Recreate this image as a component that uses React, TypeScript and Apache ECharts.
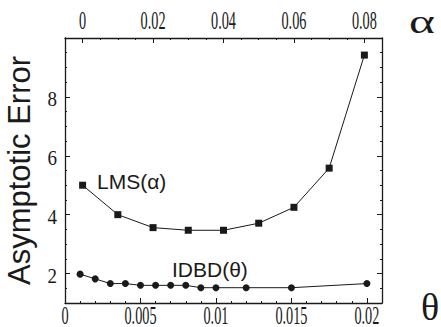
import React, { useEffect, useRef } from "react";
import * as echarts from "echarts";

// ---- data ----
const alphaValues = [0, 0.01, 0.02, 0.03, 0.04, 0.05, 0.06, 0.07, 0.08];
const lmsError = [5.0, 4.0, 3.56, 3.47, 3.47, 3.71, 4.25, 5.58, 9.42];

const thetaValues = [0.001, 0.002, 0.003, 0.004, 0.005, 0.006, 0.007, 0.008, 0.009, 0.01, 0.012, 0.015, 0.02];
const idbdError = [1.98, 1.82, 1.66, 1.66, 1.6, 1.6, 1.6, 1.6, 1.52, 1.52, 1.52, 1.52, 1.66];

const thetaMajorTicks = [0, 0.005, 0.01, 0.015, 0.02];
const thetaMinorTicks = [0.001, 0.002, 0.003, 0.004, 0.006, 0.007, 0.008, 0.009, 0.011, 0.012, 0.013, 0.014, 0.016, 0.017, 0.018, 0.019];
const alphaMajorTicks = [0, 0.02, 0.04, 0.06, 0.08];
const alphaMinorTicks = [0.005, 0.01, 0.015, 0.025, 0.03, 0.035, 0.045, 0.05, 0.055, 0.065, 0.07, 0.075];
const errorMajorTicks = [2, 4, 6, 8];
const errorMinorTicks = [1.5, 2.5, 3, 3.5, 4.5, 5, 5.5, 6.5, 7, 7.5, 8.5, 9, 9.5];

const INK = "#1a1a1a";
const SERIF = "Liberation Serif";
const SANS = "Liberation Sans";

const fmt = (v: number) => String(+Number(v).toFixed(4));

function xAxisDef(position: "top" | "bottom", min: number, max: number, major: number[], minor: number[], isMinor: boolean) {
  return {
    type: "value",
    position,
    min,
    max,
    splitLine: { show: false },
    axisLine: { show: !isMinor, onZero: false, lineStyle: { color: INK, width: 1.3 } },
    axisTick: {
      show: true,
      inside: true,
      length: isMinor ? 2 : 5,
      customValues: isMinor ? minor : major,
      lineStyle: { color: INK, width: 1 },
    },
    axisLabel: { show: false },
  };
}

function yAxisDef(position: "left" | "right", isMinor: boolean, withName: boolean) {
  return {
    type: "value",
    position,
    min: 1,
    max: 10,
    splitLine: { show: false },
    axisLine: { show: !isMinor, onZero: false, lineStyle: { color: INK, width: 1.3 } },
    axisTick: {
      show: true,
      inside: true,
      length: isMinor ? 2 : 5,
      customValues: isMinor ? errorMinorTicks : errorMajorTicks,
      lineStyle: { color: INK, width: 1 },
    },
    axisLabel: { show: false },
    ...(withName
      ? {
          name: "Asymptotic Error",
          nameLocation: "middle",
          nameGap: 30,
          nameTextStyle: { fontFamily: SANS, fontSize: 31, color: INK },
        }
      : {}),
  };
}

export default function App() {
  const ref = useRef<HTMLDivElement>(null);

  useEffect(() => {
    if (!ref.current) return;
    const chart = echarts.init(ref.current, null, { renderer: "svg" });
    chart.setOption({
      animation: false,
      backgroundColor: "#ffffff",
      grid: { left: 65, right: 59, top: 38, bottom: 24, containLabel: false, outerBoundsMode: "none" },
      xAxis: [
        xAxisDef("bottom", 0, 0.021, thetaMajorTicks, thetaMinorTicks, false),
        xAxisDef("bottom", 0, 0.021, thetaMajorTicks, thetaMinorTicks, true),
        xAxisDef("top", -0.005, 0.085, alphaMajorTicks, alphaMinorTicks, false),
        xAxisDef("top", -0.005, 0.085, alphaMajorTicks, alphaMinorTicks, true),
      ],
      yAxis: [
        yAxisDef("left", false, true),
        yAxisDef("left", true, false),
        yAxisDef("right", false, false),
        yAxisDef("right", true, false),
      ],
      series: [
        {
          name: "LMS(α)",
          type: "line",
          xAxisIndex: 2,
          yAxisIndex: 0,
          data: alphaValues.map((a, i) => [a, lmsError[i]]),
          symbol: "rect",
          symbolSize: 7,
          lineStyle: { color: INK, width: 1 },
          itemStyle: { color: INK },
          z: 5,
        },
        {
          name: "IDBD(θ)",
          type: "line",
          xAxisIndex: 0,
          yAxisIndex: 0,
          data: thetaValues.map((t, i) => [t, idbdError[i]]),
          symbol: "circle",
          symbolSize: 7,
          lineStyle: { color: INK, width: 1 },
          itemStyle: { color: INK },
          z: 5,
        },
      ],
    });

    // Tick labels placed through the axes' own scales
    const toX = (axisIndex: number, v: number) => chart.convertToPixel({ xAxisIndex: axisIndex } as any, v) as number;
    const toY = (v: number) => chart.convertToPixel({ yAxisIndex: 0 } as any, v) as number;
    const bottomY = toY(1);
    const topY = toY(10);
    const leftX = toX(0, 0);

    const tickText = (text: string, x: number, y: number, align: string, scaleX: number, scaleY: number, size: number) => ({
      type: "text",
      x,
      y,
      scaleX,
      scaleY,
      silent: true,
      style: { text, fontFamily: SERIF, fontSize: size, fill: INK, align, verticalAlign: "middle" },
    });

    const graphics: any[] = [
      ...thetaMajorTicks.map((v) => tickText(fmt(v), toX(0, v), bottomY + 12.5, "center", 0.75, 1.3, 19)),
      ...alphaMajorTicks.map((v) => tickText(fmt(v), toX(2, v), topY - 17.5, "center", 0.75, 1.3, 19)),
      ...errorMajorTicks.map((v) => tickText(fmt(v), leftX - 8, toY(v) + 1.5, "right", 1, 1.15, 19)),
      {
        type: "text",
        left: 97,
        top: 171,
        style: { text: "LMS(α)", fontFamily: SANS, fontSize: 21, fill: INK },
      },
      {
        type: "text",
        left: 172,
        top: 259,
        style: { text: "IDBD(θ)", fontFamily: SANS, fontSize: 21, fill: INK },
      },
      {
        type: "text",
        x: 409,
        y: 21,
        scaleX: 1.45,
        style: { text: "α", fontFamily: SERIF, fontSize: 34, fill: INK, lineHeight: 26, verticalAlign: "middle", align: "left" },
      },
      {
        type: "text",
        x: 421,
        y: 307,
        style: { text: "θ", fontFamily: SERIF, fontSize: 38, fill: INK, lineHeight: 32, verticalAlign: "middle", align: "left" },
      },
    ];
    chart.setOption({ graphic: graphics });

    return () => chart.dispose();
  }, []);

  return (
    <div
      ref={ref}
      style={{ position: "fixed", left: 0, top: 0, width: 441, height: 327, background: "#fff" }}
    />
  );
}
